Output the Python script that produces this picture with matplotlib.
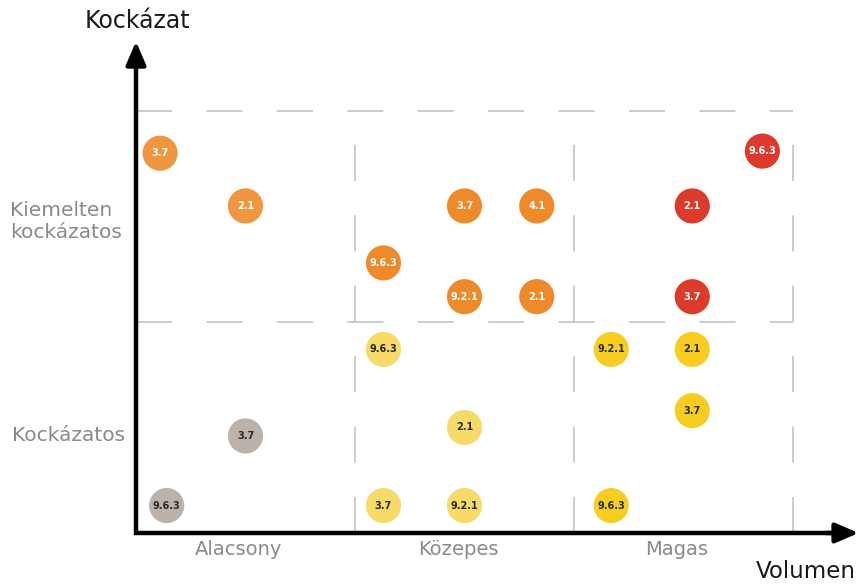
import matplotlib.pyplot as plt

# column = volume class (0 low, 1 mid, 2 high), row = risk class (0, 1)
labels = ["3.7", "2.1", "9.6.3", "3.7", "9.2.1", "4.1", "2.1", "2.1", "3.7", "9.6.3",
          "9.6.3", "3.7", "9.6.3", "3.7", "2.1", "9.2.1", "9.2.1", "2.1", "3.7", "9.6.3"]
xs = [0.11, 0.50, 1.13, 1.50, 1.50, 1.83, 1.83, 2.54, 2.54, 2.86,
      0.14, 0.50, 1.13, 1.13, 1.50, 1.50, 2.17, 2.54, 2.54, 2.17]
ys = [1.80, 1.55, 1.28, 1.55, 1.12, 1.55, 1.12, 1.55, 1.12, 1.81,
      0.13, 0.46, 0.87, 0.13, 0.50, 0.13, 0.87, 0.87, 0.58, 0.13]
groups = ["lo", "lo", "mo", "mo", "mo", "mo", "mo", "r", "r", "r",
          "g", "g", "ly", "ly", "ly", "ly", "y", "y", "y", "y"]

colors = {"lo": "#F09640", "mo": "#EE8A2A", "r": "#DE3A2C",
          "g": "#BCB2AA", "ly": "#F8DA68", "y": "#F8CD22"}
text_colors = {"lo": "white", "mo": "white", "r": "white",
               "g": "#2b2b2b", "ly": "#2b2b2b", "y": "#2b2b2b"}

row_labels = ["Kockázatos", "Kiemelten\nkockázatos"]
col_labels = ["Alacsony", "Közepes", "Magas"]

fig = plt.figure(figsize=(8.63, 5.84), dpi=100)
ax = fig.add_axes([0, 0, 1, 1])
ax.set_xlim(-136 / 219, 727 / 219)
ax.set_ylim(-51 / 211, 533 / 211)
ax.axis("off")

# dashed grid
grid_kw = dict(color="#C8C8C8", lw=1.3, dashes=(20, 19), zorder=1)
for yy in [1, 2]:
    ax.plot([0, 3], [yy, yy], **grid_kw)
for xx in [1, 2, 3]:
    ax.plot([xx, xx], [0, 2], **grid_kw)

# axes
ax.plot([0, 0, 3.2], [2.25, 0, 0], color="black", lw=3.2,
        solid_joinstyle="miter", solid_capstyle="butt", zorder=3)
head = dict(arrowstyle="-|>,head_length=1.4,head_width=0.6",
            color="black", lw=3.2, shrinkA=0, shrinkB=0)
ax.annotate("", xy=(0, 2.33), xytext=(0, 2.2), arrowprops=head, zorder=3)
ax.annotate("", xy=(3.30, 0), xytext=(3.15, 0), arrowprops=head, zorder=3)

ax.text(0.005, 2.425, "Kockázat", fontsize=17, ha="center", va="center", color="#1a1a1a")
ax.text(3.06, -0.183, "Volumen", fontsize=16.5, ha="center", va="center", color="#1a1a1a")

for i, t in enumerate(col_labels):
    ax.text(i + 0.47, -0.08, t, fontsize=14, ha="center", va="center", color="#8a8a8a")
ax.text(-0.565, 0.46, row_labels[0], fontsize=14.5, ha="left", va="center", color="#8a8a8a")
ax.text(-0.575, 1.475, row_labels[1], fontsize=14.5, ha="left", va="center", color="#8a8a8a",
        linespacing=1.2)

for x, y, g, t in zip(xs, ys, groups, labels):
    ax.scatter(x, y, s=640, color=colors[g], edgecolors="none", zorder=4)
    ax.text(x, y, t, fontsize=7, fontweight="bold", color=text_colors[g],
            ha="center", va="center", zorder=5)

fig.savefig("out.png", dpi=100)
